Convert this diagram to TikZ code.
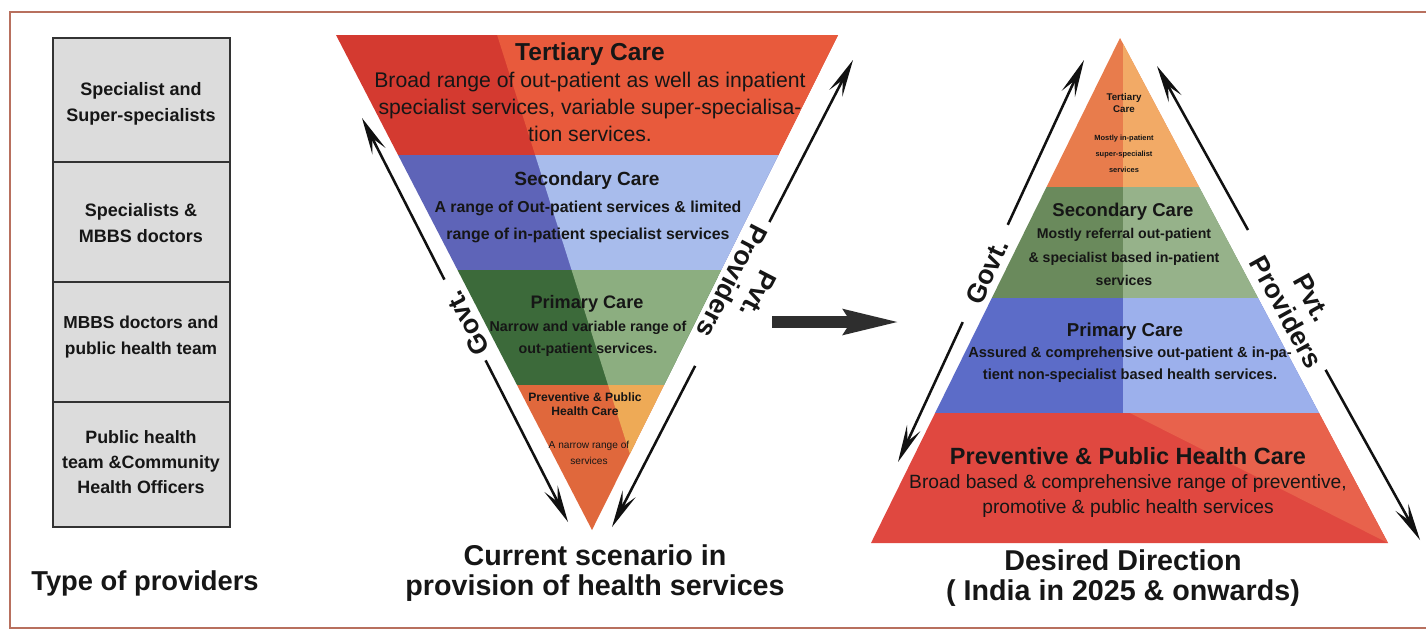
\documentclass[tikz,border=0pt]{standalone}
\usepackage{fontspec}
\setmainfont{Liberation Sans}
\usetikzlibrary{arrows.meta,calc}
\newcommand{\fsz}[2]{\fontsize{#1}{#2}\selectfont}
\definecolor{framec}{HTML}{B8705E}
\definecolor{cellgray}{HTML}{DCDCDC}
\definecolor{celledge}{HTML}{333333}
\definecolor{txtc}{HTML}{161616}
\definecolor{arrc}{HTML}{111111}
\definecolor{bigarr}{HTML}{2E2E2E}
% inverted triangle
\definecolor{itL}{HTML}{D43A30}
\definecolor{itR}{HTML}{E85A3C}
\definecolor{isL}{HTML}{5E64B8}
\definecolor{isR}{HTML}{A8BCEC}
\definecolor{ipL}{HTML}{3C6A3A}
\definecolor{ipR}{HTML}{8CAE80}
\definecolor{ivL}{HTML}{E0683C}
\definecolor{ivR}{HTML}{EEAA56}
% pyramid
\definecolor{ptL}{HTML}{E87C4C}
\definecolor{ptR}{HTML}{F2AA66}
\definecolor{psL}{HTML}{6A8A5C}
\definecolor{psR}{HTML}{96B28A}
\definecolor{ppL}{HTML}{5C6CC8}
\definecolor{ppR}{HTML}{9CB0EC}
\definecolor{pvA}{HTML}{E04840}
\definecolor{pvB}{HTML}{E8624C}
\tikzset{
  txt/.style={align=center, inner sep=0pt, text=txtc},
  cellbox/.style={draw=celledge, line width=1.2pt, fill=cellgray},
  celltxt/.style={txt, font=\bfseries\fsz{13.5pt}{19.5pt}},
  sidetxt/.style={txt, font=\bfseries\fsz{20pt}{22pt}},
  captxt/.style={txt, font=\bfseries\fsz{21.5pt}{22pt}},
  flow/.style={line width=1.9pt, draw=arrc, -{Stealth[length=28pt,width=11pt,inset=11pt]}},
}
\begin{document}
\begin{tikzpicture}[x=0.75pt,y=-0.75pt]
\useasboundingbox (0,0) rectangle (1426,637);
\fill[white] (0,0) rectangle (1426,637);
\draw[framec, line width=0.9pt] (1426,12) -- (10,12) -- (10,628) -- (1426,628);

% ---------- type of providers table ----------
\draw[cellbox] (53,38) rectangle (230,162);
\draw[cellbox] (53,162) rectangle (230,282);
\draw[cellbox] (53,282) rectangle (230,402);
\draw[cellbox] (53,402) rectangle (230,527);
\node[celltxt] (r1) at (141,104) {Specialist and\\Super-specialists};
\node[celltxt] (r2) at (141,223) {Specialists \&\\MBBS doctors};
\node[celltxt, font=\bfseries\fsz{13pt}{19.5pt}] (r3) at (141,337) {MBBS doctors and\\public health team};
\node[celltxt, font=\bfseries\fsz{13.4pt}{18.5pt}] (r4) at (141,462) {Public health\\team \&Community\\Health Officers};
\node[captxt, font=\bfseries\fsz{20.5pt}{22pt}] (typ) at (145,583) {Type of providers};

% ---------- inverted triangle ----------
\begin{scope}
\clip (336,35) -- (838,35) -- (592,530) -- cycle;
\fill[itL] (300,30) rectangle (900,155);
\fill[isL] (300,155) rectangle (900,270);
\fill[ipL] (300,270) rectangle (900,385);
\fill[ivL] (300,385) rectangle (900,540);
\clip (486,0) -- (719,735) -- (1000,735) -- (1000,0) -- cycle;
\fill[itR] (300,30) rectangle (900,155);
\fill[isR] (300,155) rectangle (900,270);
\fill[ipR] (300,270) rectangle (900,385);
\fill[ivR] (300,385) rectangle (900,540);
\end{scope}
\node[txt, font=\bfseries\fsz{18.4pt}{20pt}] (it1) at (590,54) {Tertiary Care};
\node[txt, font=\fsz{15.9pt}{20pt}] (it2) at (590,107) {Broad range of out-patient as well as inpatient\\specialist services, variable super-specialisa-\\tion services.};
\node[txt, font=\bfseries\fsz{14.3pt}{16pt}] (is1) at (587,181) {Secondary Care};
\node[txt, font=\bfseries\fsz{11.9pt}{20pt}] (is2) at (588,222) {A range of Out-patient services \& limited\\range of in-patient specialist services};
\node[txt, font=\bfseries\fsz{13.6pt}{15pt}] (ip1) at (587,304) {Primary Care};
\node[txt, font=\bfseries\fsz{10.7pt}{16.5pt}] (ip2) at (588,339) {Narrow and variable range of\\out-patient services.};
\node[txt, font=\bfseries\fsz{9.1pt}{10.5pt}] (iv1) at (585,404) {Preventive \& Public\\Health Care};
\node[txt, font=\fsz{7.6pt}{12pt}] (iv2) at (589,453) {A narrow range of\\services};

% arrows of the inverted triangle
\coordinate (gLt) at (362,118);
\coordinate (gLb) at (568,522);
\coordinate (gLa) at ($(gLt)!0.40!(gLb)$);
\coordinate (gLc) at ($(gLt)!0.60!(gLb)$);
\draw[flow] (gLa) -- (gLt);
\draw[flow] (gLc) -- (gLb);
\node[sidetxt, rotate=117] (govtL) at (467,323) {Govt.};

\coordinate (pLt) at (853,60);
\coordinate (pLb) at (612,527);
\coordinate (pLa) at ($(pLt)!0.347!(pLb)$);
\coordinate (pLc) at ($(pLt)!0.655!(pLb)$);
\draw[flow] (pLa) -- (pLt);
\draw[flow] (pLc) -- (pLb);
\node[sidetxt, rotate=-117.3] (pvtL) at (745,288) {Pvt.\\Providers};

\node[captxt] (capL) at (595,573) {Current scenario in\\provision of health services};

% ---------- middle arrow ----------
\coordinate (ma) at (772,322);
\coordinate (mb) at (902,322);
\draw[bigarr, line width=9pt, -{Stealth[length=42pt,width=17pt,inset=4pt]}] (ma) -- (mb);

% ---------- pyramid ----------
\begin{scope}
\clip (1120,38) -- (1388,543) -- (871,543) -- cycle;
\fill[ptL] (850,30) rectangle (1400,187);
\fill[psL] (850,187) rectangle (1400,298);
\fill[ppL] (850,298) rectangle (1400,413);
\fill[ptR] (1123,30) rectangle (1400,187);
\fill[psR] (1123,187) rectangle (1400,298);
\fill[ppR] (1123,298) rectangle (1400,413);
\fill[pvA] (850,413) rectangle (1400,550);
\fill[pvB] (1130,413) -- (1400,413) -- (1400,549) -- cycle;
\end{scope}
\node[txt, font=\bfseries\fsz{7.3pt}{9.5pt}] (pt1) at (1124,103) {Tertiary\\Care};
\node[txt, font=\bfseries\fsz{5.6pt}{12pt}] (pt2) at (1124,154) {Mostly in-patient\\super-specialist\\services};
\node[txt, font=\bfseries\fsz{13.9pt}{15pt}] (ps1) at (1123,212) {Secondary Care};
\node[txt, font=\bfseries\fsz{10.6pt}{17.3pt}] (ps2) at (1124,257) {Mostly referral out-patient\\\& specialist based in-patient\\services};
\node[txt, font=\bfseries\fsz{14pt}{15pt}] (pp1) at (1125,332) {Primary Care};
\node[txt, font=\bfseries\fsz{11pt}{16.5pt}] (pp2) at (1130,365) {Assured \& comprehensive out-patient \& in-pa-\\tient non-specialist based health services.};
\node[txt, font=\bfseries\fsz{17.6pt}{19pt}] (pv1) at (1128,456) {Preventive \& Public Health Care};
\node[txt, font=\fsz{14.4pt}{19pt}] (pv2) at (1128,496) {Broad based \& comprehensive range of preventive,\\promotive \& public health services};

% arrows of the pyramid
\coordinate (gRt) at (1084,60);
\coordinate (gRb) at (898,462);
\coordinate (gRa) at ($(gRt)!0.41!(gRb)$);
\coordinate (gRc) at ($(gRt)!0.652!(gRb)$);
\draw[flow] (gRa) -- (gRt);
\draw[flow] (gRc) -- (gRb);
\node[sidetxt, rotate=65.2] (govtR) at (987,272) {Govt.};

\coordinate (pRt) at (1157,66);
\coordinate (pRb) at (1420,540);
\coordinate (pRa) at ($(pRt)!0.346!(pRb)$);
\coordinate (pRc) at ($(pRt)!0.641!(pRb)$);
\draw[flow] (pRa) -- (pRt);
\draw[flow] (pRc) -- (pRb);
\node[sidetxt, rotate=-61] (pvtR) at (1299,305) {Pvt.\\Providers};

\node[captxt] (capR) at (1123,578) {Desired Direction\\( India in 2025 \& onwards)};
\end{tikzpicture}
\end{document}
